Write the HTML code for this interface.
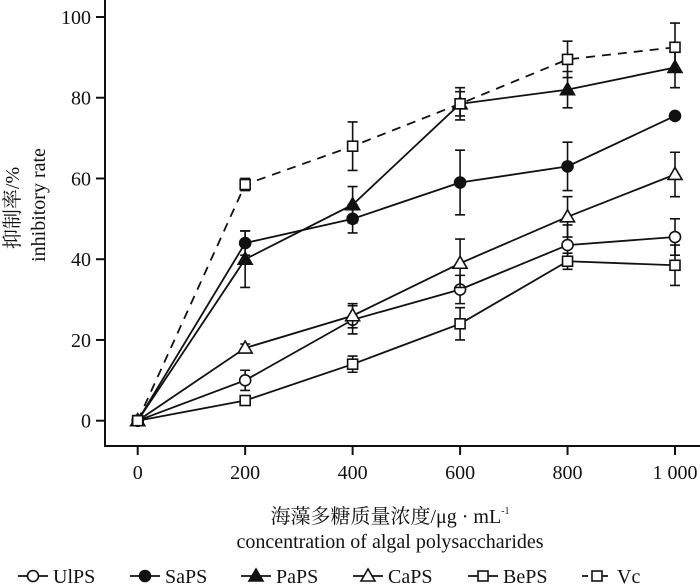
<!DOCTYPE html>
<html><head><meta charset="utf-8">
<style>
html,body{margin:0;padding:0;background:#fff;}
svg{display:block;font-family:"Liberation Serif","Noto Serif CJK SC",serif;}
</style></head>
<body>
<svg id="chart" width="700" height="584" viewBox="0 0 700 584" xmlns="http://www.w3.org/2000/svg"></svg>
<script>
const xCats = [0, 200, 400, 600, 800, 1000];
const xTickLabels = ["0", "200", "400", "600", "800", "1 000"];
const yTicks = [0, 20, 40, 60, 80, 100];
const seriesNames = ["UlPS", "SaPS", "PaPS", "CaPS", "BePS", "Vc"];
const ulps = [0, 10, 25, 32.5, 43.5, 45.5];
const ulpsErr = [0, 2.5, 3.5, 3.5, 5, 4.5];
const saps = [0, 44, 50, 59, 63, 75.5];
const sapsErr = [0, 3, 3.5, 8, 6, 0];
const paps = [0, 40, 53.5, 78.5, 82, 87.5];
const papsErr = [0, 7, 4.5, 3, 4.5, 5];
const caps = [0, 18, 26, 39, 50.5, 61];
const capsErr = [0, 1, 3, 6, 5, 5.5];
const beps = [0, 5, 14, 24, 39.5, 38.5];
const bepsErr = [0, 1, 2, 4, 2, 5];
const vc = [0, 58.5, 68, 78.5, 89.5, 92.5];
const vcErr = [0, 1.5, 6, 4, 4.5, 6];

const NS = "http://www.w3.org/2000/svg";
const svg = document.getElementById('chart');
const X = v => 137.7 + v * 0.5373;
const Y = v => 420.7 - v * 4.037;
function mk(tag, attrs, parent) {
  const e = document.createElementNS(NS, tag);
  for (const k in attrs) e.setAttribute(k, attrs[k]);
  (parent || svg).appendChild(e);
  return e;
}
const axes = mk('g', {stroke: '#111', 'stroke-width': 2, fill: 'none'});


mk('line', {x1: 105, y1: 0, x2: 105, y2: 446}, axes);
mk('line', {x1: 104, y1: 446, x2: 700, y2: 446}, axes);
yTicks.forEach(t => {
  mk('line', {x1: 96, y1: Y(t), x2: 105, y2: Y(t)}, axes);
  const tx = mk('text', {x: 91, y: Y(t) + 7, 'text-anchor': 'end', 'font-size': 20, fill: '#111'});
  tx.textContent = t;
  
  
});
xCats.forEach((c, i) => {
  mk('line', {x1: X(c), y1: 446, x2: X(c), y2: 455}, axes);
  const tx = mk('text', {x: X(c), y: 479, 'text-anchor': 'middle', 'font-size': 20, fill: '#111'});
  tx.textContent = xTickLabels[i];
  
  
});
let t1 = mk('text', {x: 390, y: 523, 'text-anchor': 'middle', 'font-size': 20, fill: '#111'});
t1.textContent = '海藻多糖质量浓度/μg · mL';


let sup = mk('tspan', {'font-size': 10, dy: -9}, t1); sup.textContent = '-1';
let t2 = mk('text', {x: 390, y: 548, 'text-anchor': 'middle', 'font-size': 20, fill: '#111'});
t2.textContent = 'concentration of algal polysaccharides';


let t3 = mk('text', {x: 0, y: 0, 'text-anchor': 'middle', 'font-size': 20, fill: '#111', transform: 'translate(19,208) rotate(-90)'});
t3.textContent = '抑制率/%';


let t4 = mk('text', {x: 0, y: 0, 'text-anchor': 'middle', 'font-size': 20, fill: '#111', transform: 'translate(45,205) rotate(-90)'});
t4.textContent = 'inhibitory rate';



function marker(type, cx, cy, g) {
  const s = {stroke: '#111', 'stroke-width': 1.6};
  if (type === 'circle-open') return mk('circle', Object.assign({cx, cy, r: 5.5, fill: '#fff'}, s), g);
  if (type === 'circle-fill') return mk('circle', Object.assign({cx, cy, r: 5.5, fill: '#111'}, s), g);
  if (type === 'tri-fill') return mk('polygon', Object.assign({points: `${cx},${cy-7} ${cx-7},${cy+5} ${cx+7},${cy+5}`, fill: '#111'}, s), g);
  if (type === 'tri-open') return mk('polygon', Object.assign({points: `${cx},${cy-7} ${cx-7},${cy+5} ${cx+7},${cy+5}`, fill: '#fff'}, s), g);
  return mk('rect', Object.assign({x: cx-5, y: cy-5, width: 10, height: 10, fill: '#fff'}, s), g);
}
const series = [
  {name: seriesNames[0], v: ulps, e: ulpsErr, m: 'circle-open', dash: null},
  {name: seriesNames[1], v: saps, e: sapsErr, m: 'circle-fill', dash: null},
  {name: seriesNames[2], v: paps, e: papsErr, m: 'tri-fill', dash: null},
  {name: seriesNames[3], v: caps, e: capsErr, m: 'tri-open', dash: null},
  {name: seriesNames[4], v: beps, e: bepsErr, m: 'square', dash: null},
  {name: seriesNames[5], v: vc, e: vcErr, m: 'square', dash: '9,7'}
];
series.forEach(s => {
  const g = mk('g', {});
  
  
  const pts = s.v.map((v, i) => X(xCats[i]) + ',' + Y(v)).join(' ');
  const pl = mk('polyline', {points: pts, fill: 'none', stroke: '#111', 'stroke-width': 1.8}, g);
  if (s.dash) pl.setAttribute('stroke-dasharray', s.dash);
  s.v.forEach((v, i) => {
    if (s.e[i] > 0) {
      const x = X(xCats[i]), y1 = Y(v + s.e[i]), y2 = Y(v - s.e[i]);
      mk('path', {d: `M${x},${y1}V${y2}M${x-5},${y1}H${x+5}M${x-5},${y2}H${x+5}`, stroke: '#111', 'stroke-width': 1.6, fill: 'none'}, g);
    }
  });
  s.v.forEach((v, i) => {
    const m = marker(s.m, X(xCats[i]), Y(v), g);
    
    
  });
});
const legX = [18, 130, 241, 353, 468, 582];
series.forEach((s, i) => {
  const g = mk('g', {});
  
  
  const x = legX[i], y = 576;
  const ln = mk('line', {x1: x, y1: y, x2: x + 30, y2: y, stroke: '#111', 'stroke-width': 1.8}, g);
  if (s.dash) ln.setAttribute('stroke-dasharray', '6,4');
  marker(s.m, x + 15, y, g);
  const tx = mk('text', {x: x + 35, y: y + 7, 'font-size': 20, fill: '#111'}, g);
  tx.textContent = s.name;
});
</script>
</body></html>
